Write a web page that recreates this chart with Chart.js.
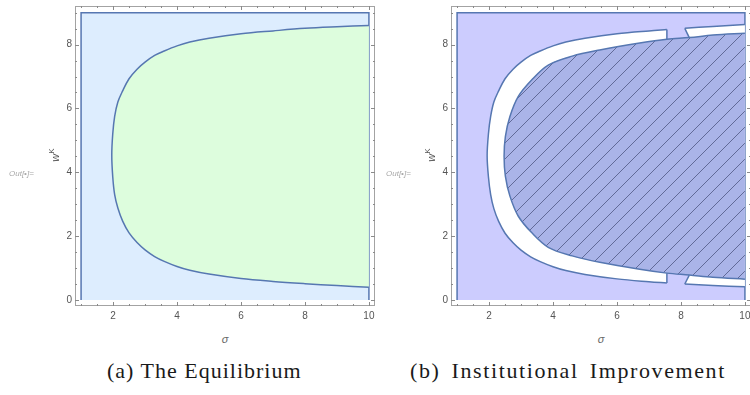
<!DOCTYPE html>
<html>
<head>
<meta charset="utf-8">
<script src="https://cdn.jsdelivr.net/npm/chart.js@4.4.1/dist/chart.umd.min.js"></script>
<style>
    html, body { margin: 0; padding: 0; background: #fff; }
    body { width: 750px; height: 395px; position: relative; overflow: hidden; font-family: 'Liberation Sans', Arial, sans-serif; }
    .panel { position: absolute; top: 0; width: 376px; height: 330px; }
    .out { position: absolute; top: 169px; font-size: 8px; font-style: italic; color: #a8a8a8; white-space: nowrap; }
    .wk { position: absolute; top: 155px; font-size: 11px; color: #555; white-space: nowrap; transform: translate(-50%, -50%) rotate(-90deg); font-style: italic; }
    .wk sup { font-size: 8px; font-style: normal; }
    .sig { position: absolute; top: 333px; font-size: 11px; font-style: italic; color: #666; transform: translateX(-50%); }
    .cap { position: absolute; top: 360px; font-family: 'Liberation Serif', 'DejaVu Serif', serif; font-size: 22px; line-height: 22px; color: #1a1a1a; white-space: nowrap; }
</style>
</head>
<body>

<div class="panel" style="left:0"><canvas id="eq"></canvas></div>
<div class="panel" style="left:376px"><canvas id="imp"></canvas></div>

<div class="out" style="left:9px">Out[&#8226;]=</div>
<div class="out" style="left:386px">Out[&#8226;]=</div>
<div class="wk" style="left:54px">w<sup>K</sup></div>
<div class="wk" style="left:430px">w<sup>K</sup></div>
<div class="sig" style="left:225px">σ</div>
<div class="sig" style="left:601px">σ</div>
<div class="cap" style="left:107px; letter-spacing:1px">(a) The Equilibrium</div>
<div class="cap" style="left:410px; letter-spacing:1.6px; word-spacing:4px">(b) Institutional Improvement</div>

<script>
'use strict';

// axes
const xTicks = [2, 4, 6, 8, 10];
const yTicks = [0, 2, 4, 6, 8];
const minorStep = 0.5;
const sigmaRange = [0.81, 10.19];
const wRange = [-0.19, 9.21];

// plotted rectangle
const boxSigma = [1, 1, 10, 10];
const boxW = [0, 9, 9, 0];

// (a) equilibrium boundary: upper branch from sigma=10 to the vertex, lower branch on the same sigmas
const eqSigma = [10, 9, 8, 7, 6, 5, 4.4, 4, 3.6, 3.3, 3, 2.75, 2.5, 2.3, 2.15, 2.05, 1.99, 1.96];
const eqUpper = [8.60, 8.56, 8.51, 8.43, 8.34, 8.20, 8.08, 7.96, 7.80, 7.66, 7.45, 7.23, 6.93, 6.55, 6.20, 5.75, 5.20, 4.54];
const eqLower = [0.40, 0.45, 0.51, 0.58, 0.67, 0.81, 0.93, 1.05, 1.21, 1.36, 1.57, 1.80, 2.10, 2.47, 2.88, 3.30, 3.86, 4.54];

// (b) outer boundary of the white band
const outSigma = [10, 9, 8.12, 7.56, 7, 6, 5, 4.4, 4, 3.6, 3.3, 3, 2.75, 2.5, 2.3, 2.15, 2.05, 1.98, 1.94];
const outUpper = [8.63, 8.57, 8.51, 8.47, 8.43, 8.34, 8.20, 8.08, 7.96, 7.80, 7.66, 7.45, 7.23, 6.93, 6.55, 6.20, 5.75, 5.20, 4.52];
const outLower = [0.41, 0.45, 0.50, 0.53, 0.57, 0.66, 0.80, 0.92, 1.04, 1.20, 1.35, 1.56, 1.79, 2.09, 2.46, 2.86, 3.30, 3.86, 4.52];

// (b) hatched region boundary
const inSigma = [10, 9, 8.26, 7.56, 6.71, 5.46, 4.6, 3.85, 3.33, 2.91, 2.65, 2.51, 2.47];
const inUpper = [8.36, 8.30, 8.22, 8.17, 8.05, 7.83, 7.64, 7.36, 6.89, 6.37, 5.74, 5.12, 4.50];
const inLower = [0.65, 0.71, 0.78, 0.84, 0.96, 1.18, 1.38, 1.65, 2.11, 2.63, 3.26, 3.88, 4.50];

// (b) cut in the white band: vertical cut, slanted cut at the outer and the inner edge
const gapSigma = [7.56, 8.12, 8.26];

const EDGE = '#5677b1';

function pts(sig, w) {
    return sig.map((s, i) => ({x: s, y: w[i]}));
}

// closed curve: upper branch to the vertex, then back along the lower branch
function loop(sig, up, lo) {
    const p = pts(sig, up);
    for (let i = sig.length - 2; i >= 0; i--) {
        p.push({x: sig[i], y: lo[i]});
    }
    return p;
}

function at(sig, w, s) {
    return w[sig.indexOf(s)];
}

function hatch() {
    const c = document.createElement('canvas');
    c.width = c.height = 16;
    const g = c.getContext('2d');
    g.fillStyle = '#aab4e8';
    g.fillRect(0, 0, 16, 16);
    g.strokeStyle = 'rgba(72,82,125,0.75)';
    g.lineWidth = 1;
    g.beginPath();
    g.moveTo(-2, 18); g.lineTo(18, -2);
    g.moveTo(-2, 2); g.lineTo(2, -2);
    g.moveTo(14, 18); g.lineTo(18, 14);
    g.stroke();
    return g.createPattern(c, 'repeat');
}

const frameTicks = {
    id: 'frameTicks',
    afterDraw(chart) {
        const {ctx, chartArea: a, scales: {x, y}} = chart;
        ctx.save();
        ctx.strokeStyle = '#a3a3a3';
        ctx.lineWidth = 1;
        ctx.strokeRect(a.left + 0.5, a.top + 0.5, a.right - a.left - 1, a.bottom - a.top - 1);
        ctx.strokeStyle = '#8a8a8a';
        ctx.beginPath();
        for (let v = 1; v <= 10; v += minorStep) {
            const px = Math.round(x.getPixelForValue(v)) + 0.5;
            const len = xTicks.includes(v) ? 4 : 2;
            ctx.moveTo(px, a.bottom); ctx.lineTo(px, a.bottom - len);
            ctx.moveTo(px, a.top); ctx.lineTo(px, a.top + len);
        }
        for (let v = 0; v <= 9; v += minorStep) {
            const py = Math.round(y.getPixelForValue(v)) + 0.5;
            const len = yTicks.includes(v) ? 4 : 2;
            ctx.moveTo(a.left, py); ctx.lineTo(a.left + len, py);
            ctx.moveTo(a.right, py); ctx.lineTo(a.right - len, py);
        }
        ctx.stroke();
        ctx.restore();
    }
};

function shape(data, fill, order, extra) {
    return Object.assign({
        data: data,
        fill: fill ? 'shape' : false,
        backgroundColor: fill || 'transparent',
        borderColor: EDGE,
        borderWidth: 1.5,
        tension: 0,
        pointRadius: 0,
        order: order
    }, extra || {});
}

function options() {
    const tickFont = {family: "'Liberation Sans', Arial, sans-serif", size: 10};
    return {
        responsive: true,
        maintainAspectRatio: false,
        animation: false,
        events: [],
        layout: {padding: {left: 0, top: 6, right: 1, bottom: 0}},
        plugins: {legend: {display: false}, tooltip: {enabled: false}},
        scales: {
            x: {
                type: 'linear',
                min: sigmaRange[0],
                max: sigmaRange[1],
                grid: {display: false, drawTicks: false},
                border: {display: false},
                ticks: {padding: 4, color: '#555', font: tickFont, maxRotation: 0, autoSkip: false},
                afterBuildTicks(scale) { scale.ticks = xTicks.map(v => ({value: v})); },
                afterFit(scale) { scale.height = 24; scale.paddingLeft = 0; scale.paddingRight = 0; }
            },
            y: {
                type: 'linear',
                min: wRange[0],
                max: wRange[1],
                grid: {display: false, drawTicks: false},
                border: {display: false},
                ticks: {padding: 3, color: '#555', font: tickFont},
                afterBuildTicks(scale) { scale.ticks = yTicks.map(v => ({value: v})); },
                afterFit(scale) { scale.width = 75; scale.paddingTop = 0; scale.paddingBottom = 0; }
            }
        }
    };
}

const SMOOTH = {tension: 0.35};

// (a) The Equilibrium
new Chart(document.getElementById('eq'), {
    type: 'line',
    data: {
        datasets: [
            shape(pts(boxSigma, boxW), '#ddedfe', 3),
            shape(loop(eqSigma, eqUpper, eqLower), '#ddfddd', 2, SMOOTH)
        ]
    },
    options: options(),
    plugins: [frameTicks]
});

// (b) Institutional Improvement
const [gCut, gOut, gIn] = gapSigma;

function gapPoly(wOut, wIn, wA, wB) {
    const k = (gIn - gOut) / (wIn - wOut);
    return [
        {x: gCut, y: wA},
        {x: gCut, y: wB},
        {x: gOut + k * (wB - wOut), y: wB},
        {x: gOut + k * (wA - wOut), y: wA}
    ];
}

const oU8 = at(outSigma, outUpper, gOut), iU8 = at(inSigma, inUpper, gIn);
const oL8 = at(outSigma, outLower, gOut), iL8 = at(inSigma, inLower, gIn);
const oUc = at(outSigma, outUpper, gCut), iUc = at(inSigma, inUpper, gCut);
const oLc = at(outSigma, outLower, gCut), iLc = at(inSigma, inLower, gCut);

const leftIdx = outSigma.map((s, i) => i).filter(i => outSigma[i] <= gCut);
const rightIdx = outSigma.map((s, i) => i).filter(i => outSigma[i] >= gOut);
const outerLeft = loop(leftIdx.map(i => outSigma[i]), leftIdx.map(i => outUpper[i]), leftIdx.map(i => outLower[i]));
const outerTopRight = rightIdx.map(i => ({x: outSigma[i], y: outUpper[i]}));
const outerBottomRight = rightIdx.map(i => ({x: outSigma[i], y: outLower[i]}));

const lavender = '#ccccfe';

new Chart(document.getElementById('imp'), {
    type: 'line',
    data: {
        datasets: [
            shape(pts(boxSigma, boxW), lavender, 9),
            shape(loop(outSigma, outUpper, outLower), '#ffffff', 8, {tension: 0.35, borderWidth: 0}),
            shape(gapPoly(oU8, iU8, 8.9, 7.9), lavender, 7, {borderWidth: 0}),
            shape(gapPoly(oL8, iL8, 0.1, 1.1), lavender, 7, {borderWidth: 0}),
            shape(loop(inSigma, inUpper, inLower), hatch(), 6, SMOOTH),
            shape(outerLeft, null, 5, SMOOTH),
            shape(outerTopRight, null, 5, SMOOTH),
            shape(outerBottomRight, null, 5, SMOOTH),
            shape([{x: gCut, y: oUc}, {x: gCut, y: iUc}], null, 4),
            shape([{x: gCut, y: oLc}, {x: gCut, y: iLc}], null, 4),
            shape([{x: gOut, y: oU8}, {x: gIn, y: iU8}], null, 4),
            shape([{x: gOut, y: oL8}, {x: gIn, y: iL8}], null, 4)
        ]
    },
    options: options(),
    plugins: [frameTicks]
});
</script>
</body>
</html>
